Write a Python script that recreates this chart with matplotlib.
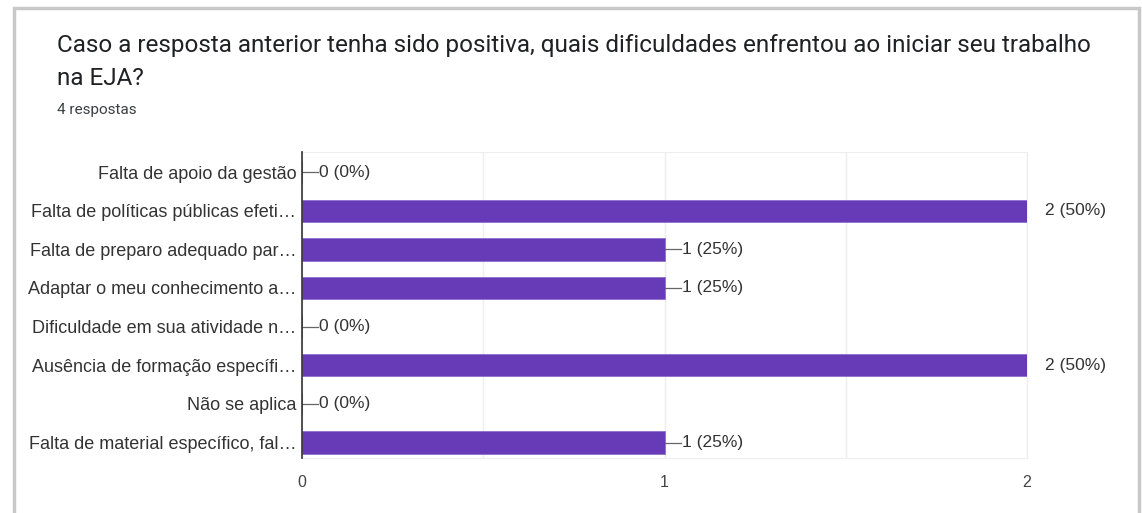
import matplotlib.pyplot as plt
from matplotlib.patches import Rectangle

# Dados
categorias = ['Falta de apoio da gestão',
              'Falta de políticas públicas efeti…',
              'Falta de preparo adequado par…',
              'Adaptar o meu conhecimento a…',
              'Dificuldade em sua atividade n…',
              'Ausência de formação específi…',
              'Não se aplica',
              'Falta de material específico, fal…']
valores = [0, 2, 1, 1, 0, 2, 0, 1]
total = 4
ticks_x = [0, 1, 2]

titulo_l1 = 'Caso a resposta anterior tenha sido positiva, quais dificuldades enfrentou ao iniciar seu trabalho'
titulo_l2 = 'na EJA?'
subtitulo = '4 respostas'

roxo = '#673AB7'

fig = plt.figure(figsize=(11.42, 5.13), dpi=100)

# cartão de fundo
fig.patches.append(Rectangle((0.012, -0.05), 0.985, 1.035, transform=fig.transFigure,
                             facecolor='white', edgecolor='#c8c8c8', linewidth=2.5, zorder=-5))

fig.text(57 / 1142, 1 - 52 / 513, titulo_l1, fontsize=17.5, family='Roboto', color='#202124',
         va='baseline')
fig.text(57 / 1142, 1 - 85 / 513, titulo_l2, fontsize=17.5, family='Roboto', color='#202124',
         va='baseline')
fig.text(57 / 1142, 1 - 114 / 513, subtitulo, fontsize=11, family='Roboto', color='#3c4043',
         va='baseline')

ax = fig.add_axes([302 / 1142, 1 - 458 / 513, (1027 - 302) / 1142, (458 - 152) / 513])
y = list(range(len(categorias)))
ax.barh(y, valores, height=0.58, color=roxo, edgecolor='#8e6fd0', linewidth=0.6, zorder=3)
ax.set_ylim(len(categorias) - 0.6, -0.52)
ax.set_xlim(0, 2)

ax.set_yticks(y)
ax.set_yticklabels(categorias, fontsize=13, family='Liberation Sans', color='#333333')
ax.set_xticks(ticks_x)
ax.set_xticklabels([str(t) for t in ticks_x], fontsize=11.5, family='Liberation Sans', color='#444444')
ax.tick_params(axis='y', length=0, pad=4)
ax.tick_params(axis='x', length=0, pad=12)

ax.set_xticks([0.5, 1.5], minor=True)
ax.tick_params(axis='x', which='minor', length=0)
ax.grid(True, axis='x', which='both', color='#eeeeee', linewidth=1, zorder=0)

for s in ['top', 'right', 'bottom']:
    ax.spines[s].set_color('#eeeeee')
ax.spines['left'].set_color('#333333')
ax.spines['left'].set_linewidth(1.2)
ax.spines['left'].set_zorder(4)

# rótulos de valor
for yi, v in zip(y, valores):
    txt = f'{v} ({v * 100 // total}%)'
    if v < max(valores):
        ax.plot([v, v + 0.045], [yi, yi], color='#666666', linewidth=0.9, clip_on=False, zorder=4)
        ax.text(v + 0.048, yi, txt, va='center', ha='left', fontsize=12.5,
                family='Liberation Sans', color='#333333')
    else:
        ax.text(v + 0.05, yi, txt, va='center', ha='left', fontsize=12.5,
                family='Liberation Sans', color='#333333')

fig.savefig('out.png', dpi=100)
